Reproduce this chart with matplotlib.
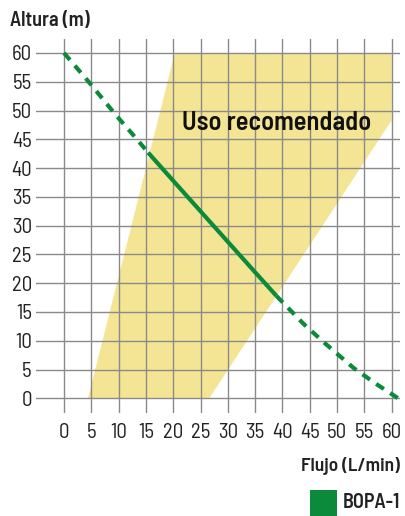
import matplotlib
matplotlib.use("Agg")
import matplotlib.pyplot as plt
from matplotlib.patches import Polygon, Rectangle

plt.rcParams['font.family'] = ['Barlow Semi Condensed', 'Roboto Condensed', 'DejaVu Sans']

# Data
x_ticks = list(range(0, 65, 5))
y_ticks = list(range(0, 65, 5))
zone_x = [4.4, 20.3, 60.0, 60.0, 26.6]
zone_y = [0, 60, 60, 48.3, 0]
curve_x = [0, 4.6, 9.6, 13, 15.4, 20, 25, 30, 35, 38.9, 43.8, 47.5, 53, 57, 61.2]
curve_y = [60, 54.9, 49.1, 45.4, 42.7, 37.8, 32.5, 27.2, 21.9, 17.8, 13.0, 9.8, 5.3, 2.6, 0]
solid_start, solid_end = 15.4, 38.9

fig = plt.figure(figsize=(4.05, 5.16), dpi=100)
ax = fig.add_axes([36/405, (516-413)/516, 364/405, 374/516])
ax.set_xlim(-5.13, 61.53)
ax.set_ylim(-2.55, 62.43)

ax.add_patch(Polygon(list(zip(zone_x, zone_y)), closed=True,
                     facecolor="#F3E593", edgecolor="none", zorder=1))
ax.set_xticks(x_ticks)
ax.set_yticks(y_ticks)
ax.grid(True, color="#8a8a8a", linewidth=1.0, zorder=2)
ax.set_axisbelow(False)
for s in ax.spines.values():
    s.set_visible(False)
ax.tick_params(length=0, labelsize=15, colors="#222222")
ax.tick_params(axis='x', pad=7)
ax.tick_params(axis='y', pad=3)

green = "#0A8A3A"
seg_a = [(x, y) for x, y in zip(curve_x, curve_y) if x <= solid_start]
seg_b = [(x, y) for x, y in zip(curve_x, curve_y) if solid_start <= x <= solid_end]
seg_c = [(x, y) for x, y in zip(curve_x, curve_y) if x >= solid_end]
for seg, ls in ((seg_a, (0, (2.2, 1.8))), (seg_b, '-'), (seg_c, (0, (2.2, 1.8)))):
    xs, ys = zip(*seg)
    ax.plot(xs, ys, color=green, linewidth=3, linestyle=ls, zorder=4,
            solid_capstyle='butt', dash_capstyle='butt')

ax.text(39, 47.8, "Uso recomendado", fontsize=19, fontweight='semibold',
        ha='center', va='center', color="#111111", zorder=5)

fig.text(10/405, 1 - 20/516, "Altura (m)", fontsize=14.5, fontweight='semibold',
         ha='left', va='center', color="#222222")
fig.text(400/405, 1 - 466/516, "Flujo (L/min)", fontsize=14, fontweight='semibold',
         ha='right', va='center', color="#222222")
fig.patches.append(Rectangle((310/405, 0), 27/405, 26/516, transform=fig.transFigure,
                             facecolor=green, edgecolor='none'))
fig.text(400/405, 1 - 503/516, "BOPA-1", fontsize=14.5, fontweight='semibold',
         ha='right', va='center', color="#222222")

fig.savefig("out.png", dpi=100)
